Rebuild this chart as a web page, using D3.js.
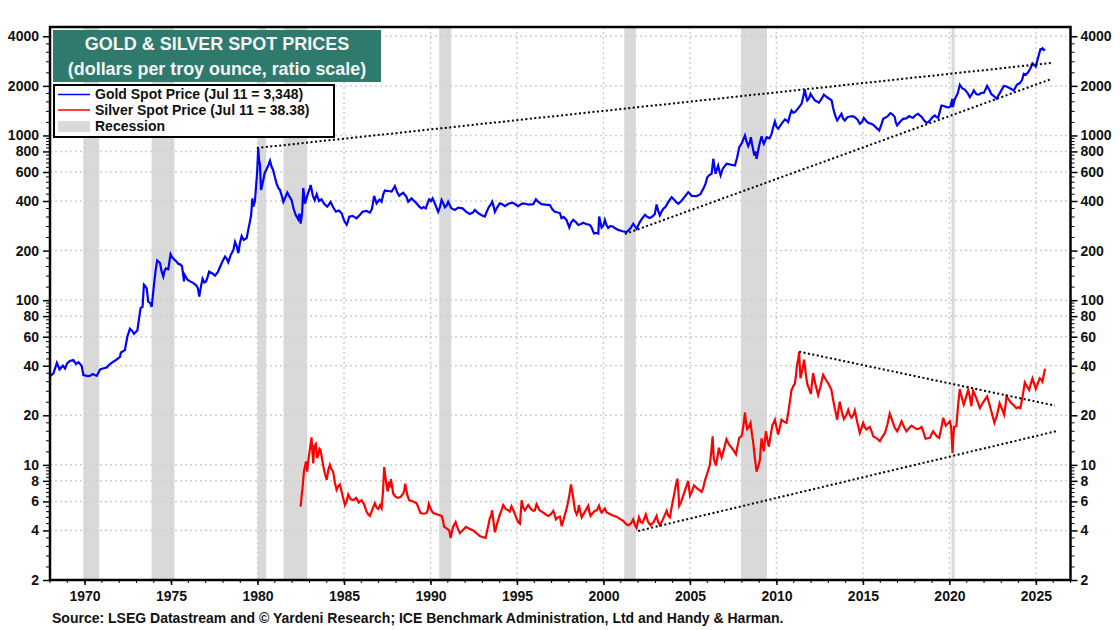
<!DOCTYPE html>
<html>
<head>
<meta charset="utf-8">
<script src="https://cdn.jsdelivr.net/npm/d3@7"></script>
<style>
  body { margin: 0; background: #fff; }
  text { font-family: "Liberation Sans", Arial, sans-serif; font-weight: bold; fill: #111; }
</style>
</head>
<body>
<svg id="chart" width="1120" height="630"></svg>
<script>
// values
const goldYears = [1968.0,1968.2,1968.4,1968.55,1968.75,1968.87,1969.15,1969.35,1969.5,1969.83,1969.93,1970.2,1970.47,1970.7,1970.9,1971.28,1971.66,1972.05,1972.1,1972.33,1972.47,1972.62,1972.85,1973.05,1973.16,1973.24,1973.35,1973.43,1973.59,1973.68,1973.88,1974.0,1974.2,1974.36,1974.55,1974.7,1974.84,1974.97,1975.17,1975.42,1975.63,1975.75,1975.76,1976.1,1976.48,1976.63,1976.82,1977.02,1977.2,1977.54,1977.83,1978.12,1978.31,1978.6,1978.7,1978.89,1979.08,1979.37,1979.56,1979.7,1979.75,1979.85,1979.98,1980.04,1980.14,1980.2,1980.33,1980.49,1980.72,1980.9,1981.1,1981.3,1981.49,1981.72,1981.97,1982.2,1982.49,1982.64,1982.74,1983.07,1983.3,1983.7,1984.03,1984.22,1984.53,1984.86,1985.15,1985.3,1985.72,1986.07,1986.5,1986.74,1986.88,1987.17,1987.36,1987.75,1987.94,1988.19,1988.42,1988.71,1988.9,1989.19,1989.48,1989.73,1989.92,1990.12,1990.44,1990.64,1990.83,1991.02,1991.41,1991.85,1992.27,1992.56,1992.76,1993.14,1993.39,1993.57,1993.72,1994.0,1994.3,1994.74,1995.07,1995.32,1995.65,1995.94,1996.09,1996.42,1996.9,1997.19,1997.48,1997.57,1997.86,1998.02,1998.25,1998.54,1998.83,1999.21,1999.45,1999.7,1999.75,1999.89,2000.08,2000.27,2000.56,2000.85,2001.34,2001.72,2001.91,2002.1,2002.4,2002.68,2002.97,2003.07,2003.26,2003.45,2003.94,2004.32,2004.9,2005.38,2005.77,2006.0,2006.25,2006.35,2006.48,2006.63,2006.77,2007.12,2007.6,2007.85,2008.18,2008.37,2008.52,2008.72,2008.85,2009.14,2009.27,2009.43,2009.72,2009.91,2010.1,2010.49,2010.68,2010.87,2011.07,2011.45,2011.64,2011.78,2011.97,2012.22,2012.45,2012.74,2013.19,2013.34,2013.51,2013.76,2013.95,2014.25,2014.53,2014.82,2015.05,2015.3,2015.59,2015.94,2016.17,2016.59,2016.84,2016.98,2017.32,2017.67,2017.9,2018.19,2018.38,2018.67,2018.87,2019.15,2019.35,2019.54,2019.83,2020.06,2020.17,2020.2,2020.37,2020.6,2020.89,2021.18,2021.41,2021.56,2021.85,2022.18,2022.43,2022.72,2023.14,2023.39,2023.72,2024.07,2024.3,2024.55,2024.8,2024.99,2025.26,2025.38,2025.53];
const goldValues = [34.6,36,41.7,38,40,38.5,42.7,43.3,41,40,35.1,34.6,35.6,34.7,38,39,42.3,45.3,48.1,49.7,60,67,62.5,65.4,79,89.6,91,124,118,98,91,121,174,168,139,156,154,190,177,166,161,130,144,130,122,105,135,130,149,141,159,184,170,201,226,193,245,238,300,415,370,400,605,835,660,466,535,615,703,615,510,466,395,450,405,330,292,480,385,500,405,410,370,395,345,337,287,321,314,344,340,430,387,396,463,457,493,430,449,396,415,387,361,361,409,415,344,406,366,396,353,361,334,353,338,322,370,396,344,387,372,391,372,387,380,383,409,383,378,344,338,315,307,276,307,286,295,286,254,254,322,276,307,274,279,267,259,291,271,298,330,315,334,381,327,358,422,385,453,428,474,558,585,722,585,657,572,673,657,849,1000,861,977,756,721,990,890,977,1023,1216,1098,1251,1205,1418,1386,1557,1901,1632,1790,1632,1579,1767,1632,1386,1233,1354,1233,1304,1292,1177,1280,1194,1161,1072,1262,1367,1292,1150,1262,1310,1280,1354,1304,1194,1233,1323,1280,1521,1486,1500,1670,1486,1710,2030,1900,1710,1875,1780,1815,2000,1780,1670,2000,1960,1875,2080,2370,2420,2740,2620,3340,3380,3348];

// second pass of readings between the ones above
const goldDetailYears = [1969.0,1969.65,1970.35,1971.05,1971.45,1971.85,1972.75,1973.52,1973.8,1974.1,1974.45,1974.62,1974.9,1975.05,1975.3,1975.52,1975.95,1976.3,1976.55,1976.72,1976.92,1977.1,1977.37,1977.7,1977.97,1978.22,1978.45,1978.8,1978.98,1979.2,1979.47,1979.63,1980.08,1980.17,1980.27,1980.41,1980.6,1980.8,1981.0,1981.2,1981.4,1981.6,1981.85,1982.08,1982.35,1982.42,1982.58,1982.69,1982.9,1983.0,1983.2,1983.42,1983.55,1983.85,1984.12,1984.38,1984.7,1985.0,1985.22,1985.5,1985.9,1986.3,1986.62,1987.05,1987.27,1987.55,1987.85,1988.08,1988.3,1988.6,1989.05,1989.35,1989.6,1989.82,1990.03,1990.3,1990.55,1990.75,1990.93,1991.2,1991.6,1992.05,1992.45,1992.66,1992.95,1993.28,1993.48,1993.65,1993.85,1994.15,1994.5,1994.9,1995.2,1995.5,1996.2,1996.65,1997.05,1997.7,1997.95,1998.12,1998.4,1998.7,1999.0,1999.3,1999.58,2000.0,2000.18,2000.4,2000.7,2001.1,2001.55,2002.25,2002.55,2002.82,2003.16,2003.36,2003.6,2003.75,2004.1,2004.2,2004.5,2004.7,2005.1,2005.6,2005.9,2006.12,2006.42,2006.55,2006.7,2006.9,2007.35,2007.72,2008.0,2008.27,2008.45,2008.62,2008.78,2009.0,2009.2,2009.35,2009.6,2009.82,2010.0,2010.3,2010.6,2010.78,2010.97,2011.25,2011.55,2011.71,2011.88,2012.1,2012.34,2012.6,2012.95,2013.27,2013.43,2013.65,2013.85,2014.1,2014.4,2014.68,2014.95,2015.18,2015.45,2015.75,2016.05,2016.4,2016.72,2016.9,2017.15,2017.5,2017.8,2018.05,2018.28,2018.52,2018.77,2019.0,2019.25,2019.45,2019.68,2019.95,2020.28,2020.48,2020.75,2021.05,2021.3,2021.48,2021.7,2022.0,2022.3,2022.58,2022.93,2023.27,2023.55,2023.9,2024.2,2024.42,2024.68,2024.9,2025.1,2025.32,2025.45];
const goldDetailValues = [41.5,42,34.9,38.5,40.8,43.5,65,121,96,150,150,150,170,183,172,165,133,127,118,120,128,137,146,148,172,178,188,212,222,232,270,330,720,560,500,590,650,650,560,480,430,420,425,360,310,335,340,440,440,470,430,440,400,385,380,365,350,305,300,325,328,348,360,408,440,460,475,450,440,425,400,370,368,385,400,375,370,385,375,362,365,345,340,345,328,350,380,370,365,382,385,382,380,385,398,380,355,320,290,295,298,290,290,278,256,285,285,282,272,262,272,315,320,322,350,345,370,395,405,395,400,425,430,440,510,575,640,620,610,630,665,730,900,920,900,850,800,870,930,930,960,1130,1130,1180,1230,1330,1375,1460,1720,1740,1680,1700,1610,1660,1700,1480,1290,1300,1270,1290,1310,1250,1210,1230,1180,1120,1150,1300,1340,1200,1210,1270,1290,1330,1325,1240,1205,1285,1295,1400,1510,1480,1620,1800,1930,1810,1780,1830,1770,1820,1900,1730,1820,1990,1920,2030,2170,2340,2550,2680,2900,3330,3300];

const silverYears = [1982.49,1982.6,1982.68,1982.8,1982.87,1983.12,1983.22,1983.37,1983.51,1983.64,1983.8,1984.0,1984.18,1984.37,1984.57,1984.76,1985.05,1985.24,1985.53,1986.01,1986.3,1986.5,1986.78,1986.98,1987.17,1987.32,1987.46,1987.6,1987.71,1987.84,1988.13,1988.42,1988.54,1988.77,1989.2,1989.42,1989.77,1989.9,1990.16,1990.64,1990.79,1991.08,1991.16,1991.45,1991.7,1992.04,1992.47,1992.85,1993.18,1993.43,1993.56,1993.72,1994.01,1994.2,1994.49,1994.68,1994.97,1995.17,1995.27,1995.46,1995.65,1995.94,1996.13,1996.52,1996.81,1997.1,1997.25,1997.48,1997.58,1997.77,1998.02,1998.12,1998.25,1998.45,1998.58,1998.74,1999.12,1999.25,1999.5,1999.74,1999.89,2000.08,2000.28,2000.76,2001.14,2001.43,2001.72,2001.91,2002.05,2002.26,2002.45,2002.72,2003.07,2003.26,2003.65,2003.84,2004.07,2004.27,2004.38,2004.61,2004.9,2005.0,2005.23,2005.48,2005.67,2005.86,2006.15,2006.31,2006.38,2006.5,2006.67,2006.83,2007.11,2007.41,2007.66,2007.85,2007.99,2008.18,2008.31,2008.5,2008.66,2008.85,2009.04,2009.14,2009.27,2009.39,2009.56,2009.77,2009.91,2010.1,2010.29,2010.58,2010.87,2011.06,2011.2,2011.31,2011.39,2011.6,2011.78,2011.99,2012.12,2012.41,2012.7,2012.99,2013.18,2013.37,2013.51,2013.66,2013.9,2014.15,2014.34,2014.53,2014.82,2015.01,2015.2,2015.4,2015.59,2015.98,2016.27,2016.55,2016.84,2016.98,2017.23,2017.52,2017.81,2018.1,2018.39,2018.62,2018.87,2019.06,2019.41,2019.64,2019.79,2020.02,2020.18,2020.27,2020.4,2020.6,2020.83,2021.08,2021.27,2021.37,2021.76,2022.18,2022.6,2022.9,2023.16,2023.3,2023.58,2023.87,2024.1,2024.36,2024.61,2024.8,2024.99,2025.22,2025.38,2025.53];
const silverValues = [5.58,7.22,9.1,10.5,9.1,14.7,10.2,13.4,11.5,12.3,9.8,8.1,10,9.1,7.05,7.6,5.7,6.6,6.1,6.1,5.2,4.9,5.85,5.4,5.45,9.7,7.4,7.9,8.2,6.7,6.3,6.7,7.7,6.1,5.85,5.1,5.1,5.8,5.1,4.9,4.2,4,3.6,4.5,3.85,4.2,4,3.7,3.6,4.75,5.3,3.9,5,5.7,5.3,5.6,4.75,4.4,6.1,5.3,5.7,5.26,5.77,5.13,4.9,5.26,4.67,4.85,4.25,5,6.5,7.6,6.3,5,5.7,4.8,5.65,4.9,5.26,5.65,5.13,5.43,5.08,4.85,4.57,4.3,4.67,4.15,4.8,4.45,5,4.3,4.9,4.3,5.26,4.8,6.5,8.25,5.65,6.5,8,6.5,7.5,7.1,6.85,8,10,14.9,10.8,9.9,12.7,11.1,14.3,12.7,11.6,14.6,15,20.8,16.5,18,13.6,9.1,10.7,14.5,12.1,16,12.9,17.5,18.8,15.3,18.8,18,28.5,31,41,48.5,33.5,43.5,31,27,36,26.5,35.2,31.3,28.5,22.1,18.8,24.2,19,21.6,19.3,21.4,15.6,18,16.4,17,14.9,13.9,15.6,20.5,16.8,16,18.4,16,17.3,16.5,17,14.4,14.6,16,14.6,19.3,17.3,18.4,11.8,17,17.2,28.8,23.2,28.5,22.7,28.2,22.1,26,18,23.7,20.2,26,23.7,22.1,22.1,31.6,28.5,33.5,28.9,33.5,32,38.38];

const silverDetailYears = [1982.55,1982.95,1983.05,1983.17,1983.28,1983.44,1983.58,1983.72,1983.9,1984.08,1984.27,1984.47,1984.66,1984.9,1985.15,1985.38,1985.7,1985.85,1986.15,1986.4,1986.65,1986.88,1987.08,1987.25,1987.39,1987.53,1987.66,1987.78,1987.98,1988.28,1988.48,1988.65,1989.0,1989.3,1989.6,1989.84,1990.05,1990.4,1990.72,1990.95,1991.12,1991.3,1991.58,1991.85,1992.25,1992.65,1993.0,1993.3,1993.5,1993.64,1993.85,1994.1,1994.35,1994.58,1994.82,1995.07,1995.36,1995.55,1995.8,1996.03,1996.3,1996.66,1996.95,1997.17,1997.36,1997.68,1997.9,1998.07,1998.18,1998.35,1998.52,1998.66,1998.93,1999.18,1999.38,1999.62,1999.82,2000.0,2000.18,2000.5,2000.95,2001.28,2001.58,2001.82,2002.15,2002.35,2002.58,2002.9,2003.16,2003.45,2003.75,2003.95,2004.17,2004.33,2004.5,2004.75,2004.95,2005.12,2005.35,2005.58,2005.76,2006.0,2006.23,2006.35,2006.44,2006.58,2006.75,2006.97,2007.25,2007.53,2007.75,2008.08,2008.24,2008.4,2008.58,2008.75,2008.95,2009.09,2009.2,2009.33,2009.47,2009.66,2009.84,2010.0,2010.2,2010.43,2010.72,2010.97,2011.13,2011.26,2011.35,2011.5,2011.69,2011.88,2012.05,2012.25,2012.55,2012.85,2013.08,2013.27,2013.44,2013.58,2013.78,2014.03,2014.25,2014.44,2014.68,2014.92,2015.1,2015.3,2015.5,2015.8,2016.12,2016.41,2016.7,2016.91,2017.1,2017.38,2017.66,2017.95,2018.25,2018.5,2018.75,2018.96,2019.25,2019.52,2019.72,2019.9,2020.1,2020.22,2020.34,2020.5,2020.72,2020.95,2021.18,2021.32,2021.55,2021.95,2022.38,2022.75,2023.03,2023.23,2023.44,2023.72,2023.98,2024.23,2024.48,2024.7,2024.9,2025.1,2025.3,2025.45];
const silverDetailValues = [6.5,11,13,12,13,11,12.5,11,8.8,9.2,9.4,7.8,7.4,6.6,6,6.2,6.3,5.9,5.8,5,5.4,5.5,5.7,6.8,8.5,6.9,7.3,7.4,6.4,6.4,7,6.6,6,5.5,5.05,5.3,5.3,5,4.6,4.1,3.8,4.2,4.1,4,4.1,3.85,3.65,4.1,4.9,4.5,4.4,5.3,5.4,5.2,5.2,4.5,5.5,5.5,5.4,5.3,5.3,5,5,5,4.8,4.6,5.6,7,7,5.3,5.2,5.2,5.2,5.2,5.1,5.3,5.3,5.3,5.15,4.95,4.7,4.4,4.4,4.3,4.5,4.7,4.5,4.5,4.5,4.7,4.9,5.6,7.4,6.9,6,7.2,7.2,6.9,7.3,7,7.2,8.9,12,12.2,10.4,11,11.8,12.5,13.3,12.2,13,17,18,17,15.5,11,9.8,12.5,13.2,14,14.3,15,18,17,17,18.3,22,30,35,44,40,38,36,29,31,31,30,33,30,25,20.5,21.5,21,20,20,20,18,16.7,17,16.7,16,14.5,14.8,17.5,18.5,16.4,17,17,16.7,16.9,16.6,15.8,14.5,15.3,15,16.5,18.2,17.8,17,14.5,17.1,23,25.5,25.5,26,25.5,25.5,24,22,20,22,22.5,24.8,23,22.4,26,30,31,31,31,33,35];

const recessionStarts = [1969.93,1973.87,1980.0,1981.5,1990.5,2001.2,2007.95,2020.12];
const recessionEnds = [1970.85,1975.2,1980.5,1982.87,1991.2,2001.87,2009.45,2020.3];

// dotted trend lines: start year, start value, end year, end value
const trendStartYears = [1979.96,2001.24,2011.31,2002.0];
const trendStartValues = [839,252,48.7,3.97];
const trendEndYears = [2025.86,2025.9,2026.1,2026.27];
const trendEndValues = [2754,2203,22.9,16.1];

const yLabels = [4000,2000,1000,800,600,400,200,100,80,60,40,20,10,8,6,4,2];
const yMinor = [2.4,2.8,3.2,3.6,4.4,4.8,5.2,5.6,6.4,6.8,7.2,7.6,8.4,8.8,9.2,9.6,12,14,16,18,24,28,32,36,44,48,52,56,64,68,72,76,84,88,92,96,120,140,160,180,240,280,320,360,440,480,520,560,640,680,720,760,840,880,920,960,1200,1400,1600,1800,2400,2800,3200,3600];
const xLabels = [1970,1975,1980,1985,1990,1995,2000,2005,2010,2015,2020,2025];

const left = 50, right = 1070.5, top_ = 27, bottom = 580;

const svg = d3.select("#chart");
const x = d3.scaleLinear().domain([1968, 2027]).range([left, right]);
const y = d3.scaleLog().domain([2, 4555]).range([bottom, top_]);

// recession bars
svg.selectAll(".rec").data(recessionStarts).enter().append("rect")
  .attr("x", d => x(d))
  .attr("y", top_)
  .attr("width", (d, i) => x(recessionEnds[i]) - x(d))
  .attr("height", bottom - top_)
  .attr("fill", "#d9d9d9");

// grid
const gridColor = "#cfcfcf";
svg.selectAll(".gy").data(yLabels.filter(d => d != 2)).enter().append("line")
  .attr("x1", left).attr("x2", right)
  .attr("y1", d => y(d)).attr("y2", d => y(d))
  .attr("stroke", gridColor).attr("stroke-width", 1.5).attr("stroke-dasharray", "2 3");
svg.selectAll(".gx").data(xLabels).enter().append("line")
  .attr("x1", d => x(d)).attr("x2", d => x(d))
  .attr("y1", top_).attr("y2", bottom)
  .attr("stroke", gridColor).attr("stroke-width", 1.5).attr("stroke-dasharray", "2 3");

// axes, tick labels come from the scales
const axisLeft = d3.axisLeft(y).tickValues(yLabels).tickFormat(d3.format("d")).tickSize(7).tickPadding(4);
const axisRight = d3.axisRight(y).tickValues(yLabels).tickFormat(d3.format("d")).tickSize(7).tickPadding(3);
const axisBottom = d3.axisBottom(x).tickValues(xLabels).tickFormat(d3.format("d")).tickSize(5).tickPadding(6);

function styleAxis(g) {
  g.select(".domain").remove();
  g.selectAll("line").attr("stroke", "#000").attr("stroke-width", 1.5);
  g.selectAll("text").attr("font-size", 14).style("font-family", '"Liberation Sans", Arial, sans-serif');
}
svg.append("g").attr("transform", `translate(${left},0)`).call(axisLeft).call(styleAxis);
svg.append("g").attr("transform", `translate(${right},0)`).call(axisRight).call(styleAxis);
svg.append("g").attr("transform", `translate(0,${bottom})`).call(axisBottom).call(styleAxis);

// minor ticks
svg.selectAll(".ml").data(yMinor).enter().append("line")
  .attr("x1", left - 4).attr("x2", left)
  .attr("y1", d => y(d)).attr("y2", d => y(d))
  .attr("stroke", "#000").attr("stroke-width", 1);
svg.selectAll(".mr").data(yMinor).enter().append("line")
  .attr("x1", right).attr("x2", right + 4)
  .attr("y1", d => y(d)).attr("y2", d => y(d))
  .attr("stroke", "#000").attr("stroke-width", 1);
svg.selectAll(".mx").data(d3.range(1968, 2028)).enter().append("line")
  .attr("x1", d => x(d)).attr("x2", d => x(d))
  .attr("y1", bottom).attr("y2", bottom + 3)
  .attr("stroke", "#000").attr("stroke-width", 1);

// series, both passes of readings merged in date order
const merged = (a, b, c, d) => d3.zip(a, b).concat(d3.zip(c, d)).sort((p, q) => p[0] - q[0]);
const line = d3.line().x(d => x(d[0])).y(d => y(d[1]));
svg.append("path").attr("d", line(merged(goldYears, goldValues, goldDetailYears, goldDetailValues)))
  .attr("fill", "none").attr("stroke", "#0000ff").attr("stroke-width", 2.2);
svg.append("path").attr("d", line(merged(silverYears, silverValues, silverDetailYears, silverDetailValues)))
  .attr("fill", "none").attr("stroke", "#ff0000").attr("stroke-width", 2.2);

// trend lines
trendStartYears.forEach((yr, i) => {
  svg.append("line")
    .attr("x1", x(yr)).attr("y1", y(trendStartValues[i]))
    .attr("x2", x(trendEndYears[i])).attr("y2", y(trendEndValues[i]))
    .attr("stroke", "#000").attr("stroke-width", 2).attr("stroke-dasharray", "2 2.5");
});

// frame
svg.append("rect").attr("x", left).attr("y", top_)
  .attr("width", right - left).attr("height", bottom - top_)
  .attr("fill", "none").attr("stroke", "#000").attr("stroke-width", 2.5);

// title box
svg.append("rect").attr("x", 53).attr("y", 30).attr("width", 328).attr("height", 52).attr("fill", "#2e7b6d");
svg.append("text").attr("x", 217).attr("y", 50).attr("text-anchor", "middle")
  .attr("font-size", 18).style("fill", "#f4f4f4").text("GOLD & SILVER SPOT PRICES");
svg.append("text").attr("x", 217).attr("y", 75).attr("text-anchor", "middle")
  .attr("font-size", 17.9).style("fill", "#f4f4f4").text("(dollars per troy ounce, ratio scale)");

// legend
svg.append("rect").attr("x", 54).attr("y", 85).attr("width", 280).attr("height", 52)
  .attr("fill", "#fff").attr("stroke", "#000").attr("stroke-width", 2);
svg.append("line").attr("x1", 58).attr("x2", 90).attr("y1", 94.5).attr("y2", 94.5).attr("stroke", "#0000ff").attr("stroke-width", 1.5);
svg.append("line").attr("x1", 58).attr("x2", 90).attr("y1", 110).attr("y2", 110).attr("stroke", "#ff0000").attr("stroke-width", 1.5);
svg.append("rect").attr("x", 58).attr("y", 121).attr("width", 32).attr("height", 11).attr("fill", "#d9d9d9");
svg.append("text").attr("x", 95).attr("y", 99).attr("font-size", 14).text("Gold Spot Price (Jul 11 = 3,348)");
svg.append("text").attr("x", 95).attr("y", 115).attr("font-size", 14).text("Silver Spot Price (Jul 11 = 38.38)");
svg.append("text").attr("x", 95).attr("y", 131).attr("font-size", 14).text("Recession");

// source
svg.append("text").attr("x", 52).attr("y", 623).attr("font-size", 14)
  .text("Source: LSEG Datastream and © Yardeni Research; ICE Benchmark Administration, Ltd and Handy & Harman.");
</script>
</body>
</html>
